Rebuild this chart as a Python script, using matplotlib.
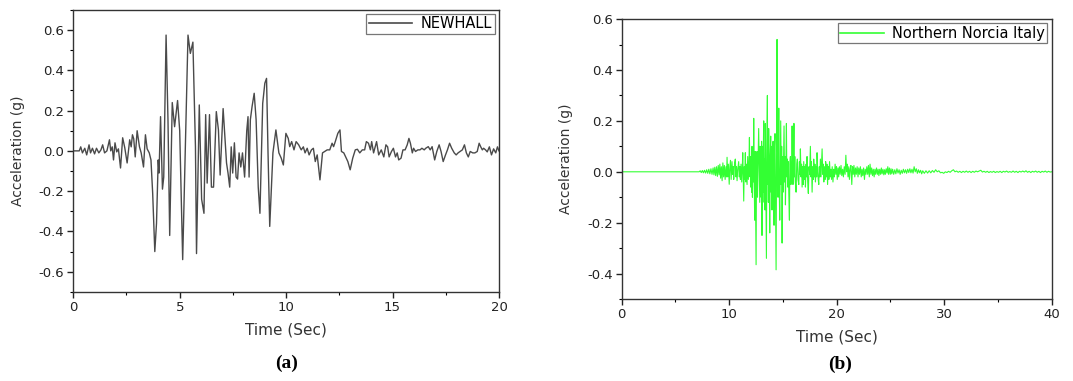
import numpy as np
import matplotlib.pyplot as plt
from matplotlib.ticker import MultipleLocator, FormatStrFormatter

# NEWHALL record (a)
newhall_t = [
    0.0, 0.28, 0.35, 0.43, 0.54, 0.63, 0.74, 0.81, 0.9, 1.0, 1.09, 1.2, 1.3, 1.38,
    1.47, 1.58, 1.7, 1.76, 1.83, 1.89, 1.96, 2.04, 2.12, 2.22, 2.32, 2.42, 2.53,
    2.65, 2.72, 2.78, 2.84, 2.91, 3.0, 3.11, 3.19, 3.3, 3.39, 3.47, 3.57, 3.65,
    3.73, 3.83, 3.91, 3.99, 4.03, 4.1, 4.19, 4.25, 4.36, 4.45, 4.53, 4.65, 4.76,
    4.9, 5.0, 5.14, 5.39, 5.5, 5.62, 5.74, 5.79, 5.92, 6.03, 6.14, 6.22, 6.29,
    6.4, 6.49, 6.59, 6.72, 6.82, 6.9, 7.04, 7.2, 7.27, 7.35, 7.42, 7.49, 7.57,
    7.65, 7.72, 7.79, 7.87, 7.95, 8.05, 8.15, 8.21, 8.26, 8.32, 8.4, 8.5, 8.59,
    8.69, 8.77, 8.9, 9.0, 9.08, 9.15, 9.23, 9.38, 9.52, 9.66, 9.77, 9.87, 9.99,
    10.1, 10.17, 10.26, 10.37, 10.47, 10.59, 10.71, 10.81, 10.89, 10.99, 11.08,
    11.19, 11.28, 11.37, 11.46, 11.59, 11.71, 11.81, 11.93, 12.05, 12.16, 12.23,
    12.31, 12.43, 12.53, 12.6, 12.71, 12.8, 12.9, 13.01, 13.13, 13.25, 13.35,
    13.46, 13.58, 13.69, 13.77, 13.87, 13.96, 14.02, 14.11, 14.25, 14.35, 14.47,
    14.59, 14.69, 14.77, 14.84, 14.95, 15.04, 15.14, 15.22, 15.29, 15.4, 15.49,
    15.59, 15.69, 15.77, 15.84, 15.93, 15.99, 16.08, 16.19, 16.29, 16.38, 16.49,
    16.56, 16.68, 16.77, 16.86, 16.98, 17.08, 17.19, 17.28, 17.38, 17.49, 17.58,
    17.68, 17.78, 17.9, 17.99, 18.08, 18.17, 18.28, 18.38, 18.47, 18.56, 18.65,
    18.77, 18.87, 18.98, 19.07, 19.14, 19.22, 19.28, 19.37, 19.45, 19.55, 19.65,
    19.75, 19.85, 19.93, 20.0,
]
newhall_a = [
    0.0, 0.0, 0.02, -0.01, 0.013, -0.02, 0.03, -0.01, 0.013, -0.015, 0.013, -0.01,
    0.005, 0.03, -0.01, 0.0, 0.055, 0.0, 0.02, -0.045, 0.04, -0.005, 0.01, -0.085,
    0.065, 0.015, -0.06, 0.055, 0.02, 0.08, 0.06, -0.03, 0.1, 0.02, -0.01, -0.08,
    0.08, 0.01, -0.01, -0.045, -0.21, -0.5, -0.36, -0.045, -0.11, 0.17, -0.19,
    -0.13, 0.575, 0.15, -0.42, 0.24, 0.12, 0.25, 0.1, -0.54, 0.575, 0.484, 0.54,
    0.02, -0.51, 0.228, -0.24, -0.31, 0.18, -0.16, 0.18, -0.18, -0.18, 0.195,
    0.104, -0.12, 0.21, -0.06, -0.11, -0.18, 0.02, -0.11, 0.04, -0.13, -0.14,
    -0.01, -0.08, -0.01, -0.13, 0.1, 0.17, -0.13, 0.155, 0.22, 0.286, 0.155,
    -0.18, -0.31, 0.236, 0.336, 0.36, -0.01, -0.375, -0.01, 0.104, -0.01, -0.036,
    -0.07, 0.087, 0.062, 0.021, 0.046, 0.005, 0.046, 0.03, 0.005, 0.02, -0.01,
    0.013, -0.02, 0.005, 0.013, -0.053, -0.02, -0.144, -0.01, -0.003, 0.005,
    0.005, 0.038, 0.021, 0.046, 0.087, 0.104, -0.003, -0.01, -0.03, -0.053,
    -0.094, -0.036, 0.005, 0.008, -0.01, 0.005, 0.005, 0.046, 0.038, 0.005, 0.046,
    -0.01, 0.046, -0.02, 0.005, -0.03, 0.03, 0.02, -0.03, -0.003, 0.013, -0.03,
    -0.01, -0.045, -0.036, 0.005, 0.005, 0.03, 0.062, 0.038, -0.01, 0.013, -0.003,
    0.005, 0.005, 0.013, 0.005, 0.013, 0.021, 0.005, 0.021, -0.045, -0.003, 0.03,
    -0.003, -0.053, -0.02, 0.005, 0.038, 0.013, -0.01, -0.02, -0.01, -0.003,
    0.005, 0.03, -0.01, -0.03, -0.003, -0.01, -0.01, -0.003, 0.038, 0.021, 0.005,
    0.013, 0.005, -0.005, 0.02, -0.02, 0.01, -0.01, 0.02, 0.0,
]

# Northern Norcia Italy record (b), (time, acceleration) pairs
norcia = [
    (0.0, 0.0), (7.2, 0.0), (7.3, 0.004), (7.4, -0.003), (7.5, 0.005),
    (7.6, -0.004), (7.7, 0.006), (7.8, -0.005), (7.9, 0.008), (8.0, -0.006),
    (8.1, 0.01), (8.2, -0.008), (8.3, 0.012), (8.4, -0.01), (8.5, 0.015),
    (8.58, -0.012), (8.66, 0.018), (8.74, -0.015), (8.82, 0.02), (8.9, -0.018),
    (8.98, 0.025), (9.06, -0.012), (9.13, 0.03), (9.2, -0.025), (9.27, 0.02),
    (9.34, -0.035), (9.41, 0.035), (9.48, -0.02), (9.55, 0.025), (9.62, -0.03),
    (9.7, 0.02), (9.75, -0.02), (9.8, 0.057), (9.86, -0.02), (9.92, 0.03),
    (10.0, -0.049), (10.06, 0.02), (10.12, 0.045), (10.18, -0.03), (10.26, 0.04),
    (10.32, -0.01), (10.38, 0.02), (10.42, -0.03), (10.5, 0.035), (10.57, 0.05),
    (10.63, -0.02), (10.68, 0.02), (10.73, -0.035), (10.8, 0.01), (10.88, 0.04),
    (10.94, -0.02), (11.0, 0.02), (11.04, -0.03), (11.1, 0.03), (11.16, -0.04),
    (11.22, 0.02), (11.26, 0.075), (11.3, -0.02), (11.35, -0.115), (11.4, 0.02),
    (11.45, -0.03), (11.5, 0.075), (11.55, -0.04), (11.6, 0.03), (11.66, -0.05),
    (11.72, 0.06), (11.78, -0.03), (11.84, 0.04), (11.88, 0.135), (11.93, -0.02),
    (11.97, 0.06), (12.0, -0.06), (12.04, 0.04), (12.08, -0.08), (12.12, 0.1),
    (12.16, -0.1), (12.2, 0.06), (12.24, -0.04), (12.28, 0.21), (12.33, -0.05),
    (12.37, -0.19), (12.41, 0.08), (12.45, -0.1), (12.5, -0.365), (12.54, 0.05),
    (12.59, 0.08), (12.63, -0.1), (12.68, 0.03), (12.74, 0.17), (12.79, 0.02),
    (12.84, -0.12), (12.88, 0.1), (12.93, 0.06), (12.97, -0.1), (13.01, 0.12),
    (13.05, -0.25), (13.09, 0.1), (13.13, -0.12), (13.17, 0.08), (13.21, 0.2),
    (13.26, -0.08), (13.3, 0.05), (13.33, -0.15), (13.36, 0.19), (13.41, -0.1),
    (13.46, -0.34), (13.5, 0.12), (13.55, 0.3), (13.58, -0.05), (13.61, 0.1),
    (13.64, -0.12), (13.67, 0.17), (13.72, 0.02), (13.77, -0.24), (13.81, 0.05),
    (13.86, 0.14), (13.9, -0.08), (13.94, 0.1), (13.98, -0.15), (14.03, 0.05),
    (14.08, 0.12), (14.12, -0.05), (14.17, -0.21), (14.21, 0.1), (14.26, 0.15),
    (14.31, -0.1), (14.36, -0.385), (14.4, 0.05), (14.45, 0.52), (14.49, 0.1),
    (14.54, -0.1), (14.58, 0.05), (14.61, 0.25), (14.65, -0.05), (14.7, -0.19),
    (14.75, 0.05), (14.79, 0.2), (14.84, -0.05), (14.88, 0.1), (14.92, -0.28),
    (14.96, 0.06), (15.01, -0.08), (15.05, 0.05), (15.1, 0.18), (15.15, -0.04),
    (15.19, 0.06), (15.23, -0.13), (15.28, 0.05), (15.32, 0.19), (15.36, -0.02),
    (15.4, 0.05), (15.44, -0.06), (15.49, 0.04), (15.54, -0.08), (15.6, -0.19),
    (15.64, 0.03), (15.69, 0.06), (15.74, -0.05), (15.8, 0.03), (15.85, 0.18),
    (15.9, 0.02), (15.93, -0.05), (15.97, 0.02), (16.02, 0.19), (16.06, -0.02),
    (16.1, 0.06), (16.15, -0.04), (16.22, -0.08), (16.28, 0.03), (16.34, 0.05),
    (16.4, -0.03), (16.47, -0.05), (16.53, 0.04), (16.58, -0.01), (16.62, 0.09),
    (16.68, -0.02), (16.73, 0.03), (16.78, -0.06), (16.84, 0.02), (16.88, -0.05),
    (16.93, 0.04), (17.0, -0.03), (17.05, 0.02), (17.09, -0.06), (17.15, 0.03),
    (17.2, -0.02), (17.24, 0.06), (17.3, -0.04), (17.36, -0.085), (17.42, 0.02),
    (17.48, -0.01), (17.55, 0.1), (17.6, -0.02), (17.65, 0.04), (17.71, -0.08),
    (17.77, 0.02), (17.82, -0.03), (17.86, 0.05), (17.92, -0.02), (17.97, 0.03),
    (18.02, -0.04), (18.08, 0.02), (18.13, -0.02), (18.17, 0.075), (18.23, 0.0),
    (18.28, -0.03), (18.33, -0.05), (18.38, 0.02), (18.43, -0.02), (18.48, 0.05),
    (18.54, -0.02), (18.59, 0.03), (18.64, 0.09), (18.7, -0.01), (18.75, 0.03),
    (18.8, -0.04), (18.86, 0.02), (18.92, -0.03), (18.97, 0.04), (19.03, -0.02),
    (19.09, 0.03), (19.15, -0.05), (19.21, 0.02), (19.27, -0.03), (19.33, 0.04),
    (19.4, -0.02), (19.46, 0.01), (19.52, -0.03), (19.58, 0.02), (19.65, -0.04),
    (19.72, 0.01), (19.78, -0.02), (19.85, 0.03), (19.92, -0.01), (19.98, 0.02),
    (20.05, -0.03), (20.12, 0.015), (20.18, -0.02), (20.25, 0.02), (20.32, -0.01),
    (20.4, 0.025), (20.47, -0.015), (20.55, 0.01), (20.62, -0.02), (20.7, 0.02),
    (20.78, -0.01), (20.85, 0.065), (20.92, 0.0), (20.98, 0.03), (21.05, -0.02),
    (21.12, 0.02), (21.18, -0.03), (21.25, 0.01), (21.32, 0.025), (21.4, -0.05),
    (21.47, 0.02), (21.54, -0.01), (21.6, 0.025), (21.68, -0.02), (21.75, 0.015),
    (21.82, -0.01), (21.9, 0.02), (21.98, -0.02), (22.05, 0.015), (22.12, -0.01),
    (22.2, 0.02), (22.28, -0.02), (22.35, 0.01), (22.42, -0.015), (22.5, 0.015),
    (22.58, -0.03), (22.65, 0.01), (22.72, -0.01), (22.8, 0.02), (22.88, -0.01),
    (22.95, 0.025), (23.03, -0.02), (23.1, 0.03), (23.18, -0.01), (23.25, 0.015),
    (23.33, -0.015), (23.4, 0.01), (23.48, -0.02), (23.55, 0.01), (23.62, -0.01),
    (23.7, 0.015), (23.78, -0.01), (23.85, 0.01), (23.92, -0.015), (24.0, 0.01),
    (24.08, -0.01), (24.15, 0.015), (24.22, -0.008), (24.3, 0.01), (24.38, -0.012),
    (24.45, 0.008), (24.52, -0.01), (24.6, 0.012), (24.68, -0.005), (24.75, 0.02),
    (24.82, -0.01), (24.9, 0.015), (24.98, -0.01), (25.05, 0.012), (25.12, -0.008),
    (25.2, 0.01), (25.3, -0.01), (25.4, 0.008), (25.5, -0.008), (25.6, 0.012),
    (25.7, -0.005), (25.8, 0.008), (25.9, -0.01), (26.0, 0.006), (26.1, -0.006),
    (26.2, 0.01), (26.3, -0.004), (26.4, 0.008), (26.5, -0.006), (26.6, 0.01),
    (26.7, -0.003), (26.8, 0.012), (26.9, -0.004), (27.0, 0.01), (27.1, -0.005),
    (27.2, 0.02), (27.3, 0.0), (27.4, 0.012), (27.5, -0.006), (27.6, 0.008),
    (27.7, -0.004), (27.8, 0.006), (27.9, -0.008), (28.0, 0.004), (28.15, -0.006),
    (28.3, 0.004), (28.45, -0.005), (28.6, 0.004), (28.75, -0.004), (28.9, 0.005),
    (29.05, -0.002), (29.2, 0.008), (29.35, 0.0), (29.5, 0.004), (29.65, -0.004),
    (29.8, -0.002), (29.95, -0.006), (30.1, 0.0), (30.25, -0.003), (30.4, 0.002),
    (30.55, -0.002), (30.7, 0.004), (30.85, 0.008), (31.0, 0.0), (31.15, 0.003),
    (31.3, -0.002), (31.45, 0.002), (31.6, -0.003), (31.75, 0.002), (31.9, -0.002),
    (32.05, 0.003), (32.2, -0.002), (32.35, 0.002), (32.5, -0.003), (32.65, 0.002),
    (32.8, -0.002), (32.95, 0.003), (33.1, 0.0), (33.25, 0.003), (33.4, 0.006),
    (33.55, -0.001), (33.7, 0.002), (33.85, -0.002), (34.0, 0.002), (34.15, -0.003),
    (34.3, 0.001), (34.45, -0.002), (34.6, 0.002), (34.75, -0.003), (34.9, 0.001),
    (35.05, -0.002), (35.2, 0.002), (35.35, -0.003), (35.5, 0.002), (35.65, -0.001),
    (35.8, 0.003), (35.95, -0.002), (36.1, 0.001), (36.25, -0.002), (36.4, 0.003),
    (36.55, -0.002), (36.7, 0.002), (36.85, -0.003), (37.0, 0.002), (37.15, -0.001),
    (37.3, 0.003), (37.45, -0.001), (37.6, 0.004), (37.75, -0.002), (37.9, 0.002),
    (38.05, -0.003), (38.2, 0.002), (38.35, -0.001), (38.5, 0.003), (38.65, -0.002),
    (38.8, 0.002), (38.95, -0.003), (39.1, 0.002), (39.25, -0.001), (39.4, 0.003),
    (39.55, -0.002), (39.7, 0.002), (39.85, -0.001), (40.0, 0.0),
]
norcia_t = [p[0] for p in norcia]
norcia_a = [p[1] for p in norcia]

plt.rcParams['font.family'] = ['DejaVu Sans']

fig = plt.figure(figsize=(10.73, 3.81), dpi=100)
ax1 = fig.add_axes([0.0683, 0.234, 0.3967, 0.740])
ax2 = fig.add_axes([0.5794, 0.215, 0.4008, 0.735])


def style_axes(ax, xmaj, xmin, ymaj, ymin):
    ax.xaxis.set_major_locator(MultipleLocator(xmaj))
    ax.xaxis.set_minor_locator(MultipleLocator(xmin))
    ax.yaxis.set_major_locator(MultipleLocator(ymaj))
    ax.yaxis.set_minor_locator(MultipleLocator(ymin))
    ax.xaxis.set_major_formatter(FormatStrFormatter('%d'))
    ax.yaxis.set_major_formatter(FormatStrFormatter('%.1f'))
    ax.tick_params(which='major', direction='out', length=4, width=1,
                   labelsize=9.5, colors='#222222', pad=2.5)
    ax.tick_params(which='minor', direction='out', length=2.5, width=0.8)
    for s in ax.spines.values():
        s.set_color('#333333')
        s.set_linewidth(1.0)
    ax.set_xlabel('Time (Sec)', fontsize=11, color='#333333', labelpad=6)
    ax.set_ylabel('Acceleration (g)', fontsize=10, color='#333333', labelpad=10)


ax1.plot(newhall_t, newhall_a, color='#4a4a4a', lw=1.0, label='NEWHALL')
ax1.set_xlim(0, 20)
ax1.set_ylim(-0.7, 0.7)
style_axes(ax1, 5, 2.5, 0.2, 0.1)

ax2.plot(norcia_t, norcia_a, color='#33ff33', lw=0.8, label='Northern Norcia Italy')
ax2.set_xlim(0, 40)
ax2.set_ylim(-0.5, 0.6)
style_axes(ax2, 10, 5, 0.2, 0.1)

for ax in (ax1, ax2):
    leg = ax.legend(loc='upper right', fontsize=10.5, frameon=True, fancybox=False,
                    handlelength=3.0, borderpad=0.15, borderaxespad=0.3,
                    handletextpad=0.6)
    leg.get_frame().set_edgecolor('#555555')
    leg.get_frame().set_linewidth(0.9)
    for h in leg.get_lines():
        h.set_linewidth(1.2)

fig.text(0.2675, 0.047, '(a)', fontsize=14, fontweight='bold',
         family='Liberation Serif', ha='center', va='center')
fig.text(0.783, 0.044, '(b)', fontsize=14, fontweight='bold',
         family='Liberation Serif', ha='center', va='center')

fig.savefig('out.png', dpi=100)
